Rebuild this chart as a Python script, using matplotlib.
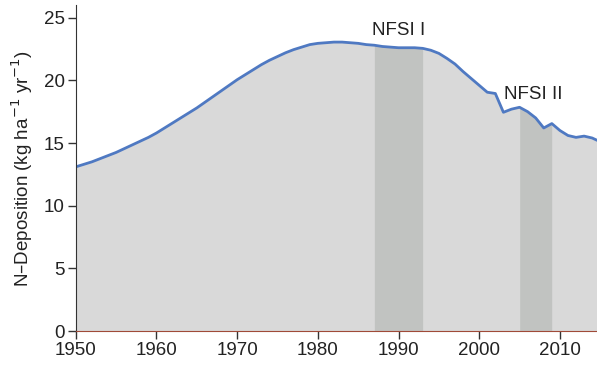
import numpy as np
import matplotlib.pyplot as plt

plt.rcParams['font.family'] = ['Liberation Sans', 'DejaVu Sans']

# annual N deposition
years = list(range(1950, 2016))
deposition = [13.1, 13.3, 13.5, 13.75, 14.0, 14.25, 14.55, 14.85, 15.15, 15.45,
              15.8, 16.2, 16.6, 17.0, 17.4, 17.8, 18.25, 18.7, 19.15, 19.6,
              20.05, 20.45, 20.85, 21.25, 21.6, 21.9, 22.2, 22.45, 22.65, 22.85,
              22.95, 23.0, 23.05, 23.05, 23.0, 22.95, 22.85, 22.8, 22.7, 22.65,
              22.6, 22.6, 22.6, 22.55, 22.4, 22.15, 21.75, 21.3, 20.7, 20.15,
              19.6, 19.05, 18.95, 17.45, 17.7, 17.85, 17.5, 17.0, 16.2, 16.55,
              16.0, 15.6, 15.45, 15.55, 15.4, 15.1]

# survey periods
surveys = ['NFSI I', 'NFSI II']
survey_start = [1987, 2005]
survey_end = [1993, 2009]
label_pos = [(1990, 24.0), (2006.7, 18.9)]

x = np.array(years, dtype=float)
y = np.array(deposition)

fig = plt.figure(figsize=(5.97, 3.65), dpi=100)
ax = fig.add_axes([0.127, 0.093, 0.873, 0.893])

ax.fill_between(x, 0, y, color='#d9d9d9', lw=0, zorder=1)

# darker shading under the curve for each survey period
xf = np.linspace(x[0], x[-1], 2000)
yf = np.interp(xf, x, y)
for s, e in zip(survey_start, survey_end):
    m = (xf >= s) & (xf <= e)
    ax.fill_between(xf[m], 0, yf[m], color='#c1c3c1', lw=0, zorder=2)

ax.plot(x, y, color='#4f79c2', lw=2, zorder=3)

for name, (lx, ly) in zip(surveys, label_pos):
    ax.text(lx, ly, name, ha='center', va='center', fontsize=13.5, color='#222222')

ax.set_xlim(1950, 2014.6)
ax.set_ylim(0, 26)
ax.set_xticks(range(1950, 2011, 10))
ax.set_yticks(range(0, 26, 5))
ax.tick_params(labelsize=13.5, length=6, width=1, color='#333333', labelcolor='#222222', pad=2)
ax.set_ylabel('N\u2013Deposition (kg ha$^{-1}$ yr$^{-1}$)', fontsize=13.5, color='#222222', labelpad=6)

for side in ['top', 'right']:
    ax.spines[side].set_visible(False)
ax.spines['left'].set_color('#333333')
ax.spines['bottom'].set_color('#a04a38')
ax.spines['left'].set_zorder(4)
ax.spines['bottom'].set_zorder(4)

fig.savefig('out.png', dpi=100)
